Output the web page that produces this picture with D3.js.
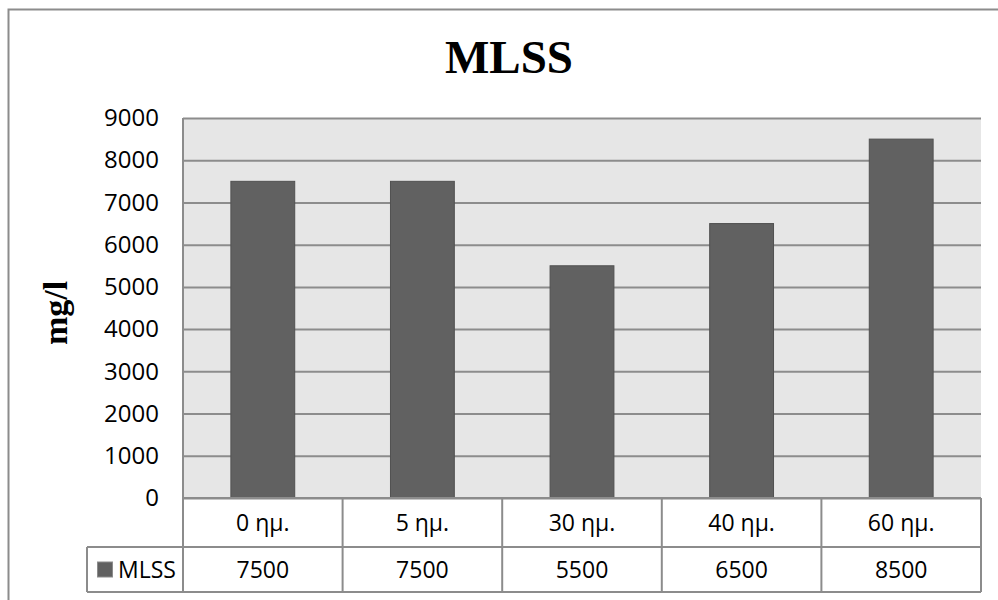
<!DOCTYPE html>
<html>
<head>
<meta charset="utf-8">
<script src="https://cdn.jsdelivr.net/npm/d3@7"></script>
<style>
  html, body { margin: 0; padding: 0; background: #fff; }
  svg { display: block; }
</style>
</head>
<body>
<svg id="chart" width="998" height="600"></svg>
<script>
// Chart data
const categories = ["0 ημ.", "5 ημ.", "30 ημ.", "40 ημ.", "60 ημ."];
const seriesName = "MLSS";
const values = [7500, 7500, 5500, 6500, 8500];
const yTicks = [0, 1000, 2000, 3000, 4000, 5000, 6000, 7000, 8000, 9000];
const chartTitle = "MLSS";
const yLabel = "mg/l";

const svg = d3.select("#chart");
const W = 998, H = 600;

// Plot frame
const plot = { left: 183, right: 981, top: 118, bottom: 498 };
const rowH1 = 49, rowH2 = 45;
const legendLeft = 87;

const gridColor = "#8c8c8c";
const sansFont = "'Open Sans', 'Noto Sans', sans-serif";
const serifFont = "'Liberation Serif', 'DejaVu Serif', serif";

// Outer chart border
svg.append("rect")
  .attr("x", 8.5).attr("y", 9.5)
  .attr("width", W).attr("height", H)
  .attr("fill", "#fff")
  .attr("stroke", "#8c8c8c").attr("stroke-width", 2);

const x = d3.scaleBand()
  .domain(categories)
  .range([plot.left, plot.right])
  .paddingInner(0.6)
  .paddingOuter(0.3);

const y = d3.scaleLinear()
  .domain([0, 9000])
  .range([plot.bottom, plot.top]);

// Plot background
svg.append("rect")
  .attr("x", plot.left).attr("y", plot.top)
  .attr("width", plot.right - plot.left)
  .attr("height", plot.bottom - plot.top)
  .attr("fill", "#e6e6e6");

// Gridlines and tick labels via axis
const yAxis = d3.axisLeft(y)
  .tickValues(yTicks)
  .tickSize(-(plot.right - plot.left))
  .tickPadding(24)
  .tickFormat(d3.format("d"));

const gAxis = svg.append("g")
  .attr("transform", `translate(${plot.left},0)`)
  .call(yAxis);
gAxis.select(".domain").remove();
gAxis.selectAll(".tick line")
  .attr("stroke", gridColor).attr("stroke-width", 2);
gAxis.selectAll(".tick text")
  .attr("fill", "#000")
  .style("font-family", sansFont)
  .style("font-size", "24px");

// Left edge of plot area
svg.append("line")
  .attr("x1", plot.left).attr("x2", plot.left)
  .attr("y1", plot.top).attr("y2", plot.bottom)
  .attr("stroke", gridColor).attr("stroke-width", 2);

// Bars
svg.append("g").selectAll("rect")
  .data(values)
  .join("rect")
  .attr("x", (d, i) => x(categories[i]))
  .attr("y", d => y(d))
  .attr("width", x.bandwidth())
  .attr("height", d => y(0) - y(d))
  .attr("fill", "#616161")
  .attr("stroke", "#515151")
  .attr("stroke-width", 1);

// Data table below the plot
const step = x.step();
const colEdges = categories.map((c, i) => plot.left + i * step);
colEdges.push(plot.right);
const tRow1Top = plot.bottom, tRow1Bot = plot.bottom + rowH1, tRow2Bot = tRow1Bot + rowH2;

const tbl = svg.append("g")
  .attr("stroke", gridColor).attr("stroke-width", 2).attr("fill", "none");

// Horizontal lines
tbl.append("line").attr("x1", plot.left).attr("x2", plot.right).attr("y1", tRow1Top).attr("y2", tRow1Top);
tbl.append("line").attr("x1", legendLeft).attr("x2", plot.right).attr("y1", tRow1Bot).attr("y2", tRow1Bot);
tbl.append("line").attr("x1", legendLeft).attr("x2", plot.right).attr("y1", tRow2Bot).attr("y2", tRow2Bot);
// Vertical lines
colEdges.forEach(cx => {
  tbl.append("line").attr("x1", cx).attr("x2", cx).attr("y1", tRow1Top).attr("y2", tRow2Bot);
});
tbl.append("line").attr("x1", legendLeft).attr("x2", legendLeft).attr("y1", tRow1Bot).attr("y2", tRow2Bot);

// Header row: category names
svg.append("g").selectAll("text")
  .data(categories)
  .join("text")
  .attr("x", d => x(d) + x.bandwidth() / 2)
  .attr("y", (tRow1Top + tRow1Bot) / 2)
  .attr("dy", "0.35em")
  .attr("text-anchor", "middle")
  .style("font-family", sansFont)
  .style("font-size", "23px")
  .text(d => d);

// Value row
svg.append("g").selectAll("text")
  .data(values)
  .join("text")
  .attr("x", (d, i) => x(categories[i]) + x.bandwidth() / 2)
  .attr("y", (tRow1Bot + tRow2Bot) / 2)
  .attr("dy", "0.35em")
  .attr("text-anchor", "middle")
  .style("font-family", sansFont)
  .style("font-size", "23px")
  .text(d => d);

// Legend key in the table
svg.append("rect")
  .attr("x", 97.5).attr("y", (tRow1Bot + tRow2Bot) / 2 - 7.5)
  .attr("width", 15).attr("height", 15)
  .attr("fill", "#616161").attr("stroke", "#8c8c8c").attr("stroke-width", 1);
svg.append("text")
  .attr("x", 118)
  .attr("y", (tRow1Bot + tRow2Bot) / 2)
  .attr("dy", "0.35em")
  .style("font-family", sansFont)
  .style("font-size", "23px")
  .text(seriesName);

// Title
svg.append("text")
  .attr("x", 509).attr("y", 73)
  .attr("text-anchor", "middle")
  .style("font-family", serifFont)
  .style("font-weight", "bold")
  .style("font-size", "47px")
  .text(chartTitle);

// Y axis title
svg.append("text")
  .attr("transform", "translate(67,313) rotate(-90)")
  .attr("text-anchor", "middle")
  .style("font-family", serifFont)
  .style("font-weight", "bold")
  .style("font-size", "34px")
  .text(yLabel);
</script>
</body>
</html>
